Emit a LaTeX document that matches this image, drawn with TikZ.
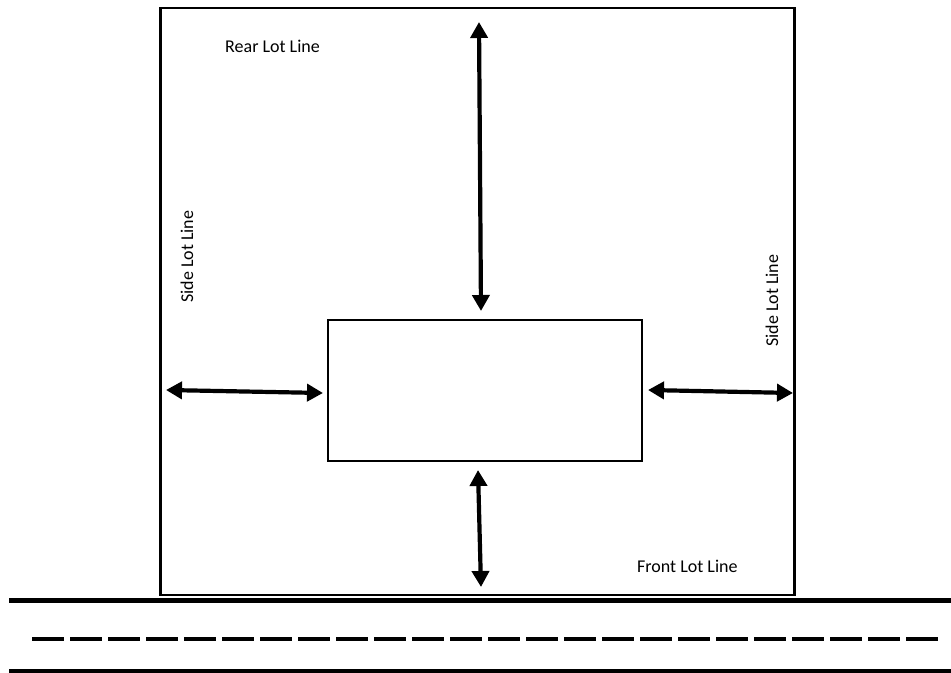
\documentclass[tikz,border=0pt]{standalone}
\usepackage{fontspec}
\setmainfont{Carlito}
\usetikzlibrary{arrows.meta}
\begin{document}
\begin{tikzpicture}[x=1bp,y=-1bp,
  lotline/.style={draw=black,line width=2.2bp,inner sep=0pt,fill=none},
  dimarrow/.style={line width=4.2bp,{Triangle[width=17bp,length=16bp]}-{Triangle[width=17bp,length=16bp]}},
  roadline/.style={line width=5bp},
  centerline/.style={line width=4.2bp,dash pattern=on 32bp off 6bp},
  lbl/.style={inner sep=0pt,font=\fontsize{18bp}{21bp}\selectfont}]
\useasboundingbox (0,0) rectangle (951,673);
% lot
\node[lotline,minimum width=634bp,minimum height=587bp] (lot) at (477.5,301.5) {};
% building
\node[lotline,minimum width=314bp,minimum height=141bp] (bldg) at (485,390.5) {};
% road
\coordinate (r1a) at (9,600);
\coordinate (r1b) at (951,600);
\coordinate (r2a) at (32,639);
\coordinate (r2b) at (940,639);
\coordinate (r3a) at (9,671);
\coordinate (r3b) at (951,671);
\draw[roadline] (r1a) -- (r1b);
\draw[centerline] (r2a) -- (r2b);
\draw[roadline] (r3a) -- (r3b);
% arrows
\coordinate (at1) at (479,22);
\coordinate (at2) at (481,311);
\coordinate (al1) at (166,390);
\coordinate (al2) at (323,393);
\coordinate (ar1) at (648,390);
\coordinate (ar2) at (793,393);
\coordinate (ab1) at (478,470);
\coordinate (ab2) at (481,587);
\draw[dimarrow] (at1) -- (at2);
\draw[dimarrow] (al1) -- (al2);
\draw[dimarrow] (ar1) -- (ar2);
\draw[dimarrow] (ab1) -- (ab2);
% labels
\node[lbl,anchor=base west] (rear) at (225,53) {Rear Lot Line};
\node[lbl,anchor=base west] (front) at (637,572) {Front Lot Line};
\node[lbl,anchor=base west,rotate=90] (sidel) at (193,303) {Side Lot Line};
\node[lbl,anchor=base west,rotate=90] (sider) at (778,347) {Side Lot Line};
\end{tikzpicture}
\end{document}
